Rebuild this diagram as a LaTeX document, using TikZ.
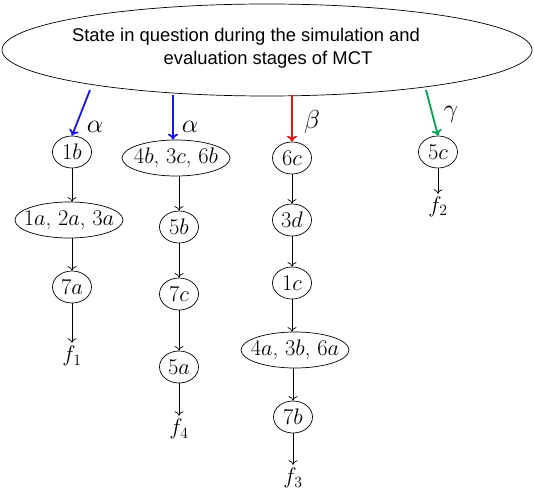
\RequirePackage{fix-cm}
\documentclass[tikz,border=0pt]{standalone}
\usepackage{fontspec}
\newfontfamily\arialfont{Liberation Sans}
\usetikzlibrary{shapes.geometric,arrows.meta}
\definecolor{arrgreen}{RGB}{0,165,80}
\definecolor{arrblue}{RGB}{20,20,235}
\definecolor{arrred}{RGB}{235,20,20}
\begin{document}
\begin{tikzpicture}[x=1pt,y=-1pt,
  circ/.style={ellipse, draw, line width=0.7pt, inner sep=0pt, minimum width=39pt, minimum height=32pt, font=\fontsize{22.5}{26}\selectfont},
  grp/.style={ellipse, draw, line width=0.7pt, inner sep=0pt, minimum width=108pt, minimum height=36pt, font=\fontsize{22.5}{26}\selectfont},
  flab/.style={inner sep=3pt, font=\fontsize{22.5}{26}\selectfont},
  greek/.style={inner sep=0pt, font=\fontsize{26}{30}\selectfont},
  blk/.style={-{To[length=4.5pt,width=9pt]}, line width=0.7pt},
  col/.style={-{To[length=6pt,width=10pt]}, line width=1.8pt},
  headtxt/.style={inner sep=0pt, font=\arialfont\fontsize{18.4}{22}\selectfont}
]
\useasboundingbox (0,0) rectangle (534,494);
% top ellipse
\node[ellipse, draw, line width=0.7pt, inner sep=0pt, minimum width=530pt, minimum height=92pt] (top) at (267,50) {};
\node[headtxt] (t1) at (246,37) {State in question during the simulation and};
\node[headtxt] (t2) at (268,60) {evaluation stages of MCT};
% column 1
\node[circ] (n1b) at (72,152) {\makebox[0pt]{$1b$}};
\node[grp] (n1a) at (69,220) {\makebox[0pt]{$1a$, $2a$, $3a$}};
\node[circ] (n7a) at (72,287) {\makebox[0pt]{$7a$}};
\node[flab] (f1) at (72,356) {$f_1$};
% column 2
\node[grp] (n4b) at (176,158) {\makebox[0pt]{$4b$, $3c$, $6b$}};
\node[circ] (n5b) at (179,227) {\makebox[0pt]{$5b$}};
\node[circ] (n7c) at (179,294) {\makebox[0pt]{$7c$}};
\node[circ] (n5a) at (179,367) {\makebox[0pt]{$5a$}};
\node[flab] (f4) at (179,429) {$f_4$};
% column 3
\node[circ] (n6c) at (292,158) {\makebox[0pt]{$6c$}};
\node[circ] (n3d) at (292,220) {\makebox[0pt]{$3d$}};
\node[circ] (n1c) at (292,283) {\makebox[0pt]{$1c$}};
\node[grp] (n4a) at (295,350) {\makebox[0pt]{$4a$, $3b$, $6a$}};
\node[circ] (n7b) at (293,417) {\makebox[0pt]{$7b$}};
\node[flab] (f3) at (293,478) {$f_3$};
% column 4
\node[circ] (n5c) at (438,152) {\makebox[0pt]{$5c$}};
\node[flab] (f2) at (438,207) {$f_2$};
% black arrows
\draw[blk] (n1b) -- (n1b |- n1a.north);
\draw[blk] (n1b |- n1a.south) -- (n7a);
\draw[blk] (n7a) -- (f1);
\draw[blk] (n4b.south -| n5b) -- (n5b);
\draw[blk] (n5b) -- (n7c);
\draw[blk] (n7c) -- (n5a);
\draw[blk] (n5a) -- (f4);
\draw[blk] (n6c) -- (n3d);
\draw[blk] (n3d) -- (n1c);
\draw[blk] (n1c) -- (n1c |- n4a.north);
\draw[blk] (n7b |- n4a.south) -- (n7b);
\draw[blk] (n7b) -- (f3);
\draw[blk] (n5c) -- (f2);
% coloured arrows
\coordinate (a1) at (90,90);
\coordinate (a2) at (173,95);
\coordinate (a3) at (292,95);
\coordinate (a4) at (426,90);
\draw[col, arrblue] (a1) -- (n1b.north);
\draw[col, arrblue] (a2) -- (a2 |- n4b.north);
\draw[col, arrred] (a3) -- (n6c.north);
\draw[col, arrgreen] (a4) -- (n5c.north);
\node[greek] (al1) at (95,127) {$\alpha$};
\node[greek] (al2) at (190,127) {$\alpha$};
\node[greek] (be) at (312,122) {$\beta$};
\node[greek] (ga) at (451,114) {$\gamma$};
\end{tikzpicture}
\end{document}
